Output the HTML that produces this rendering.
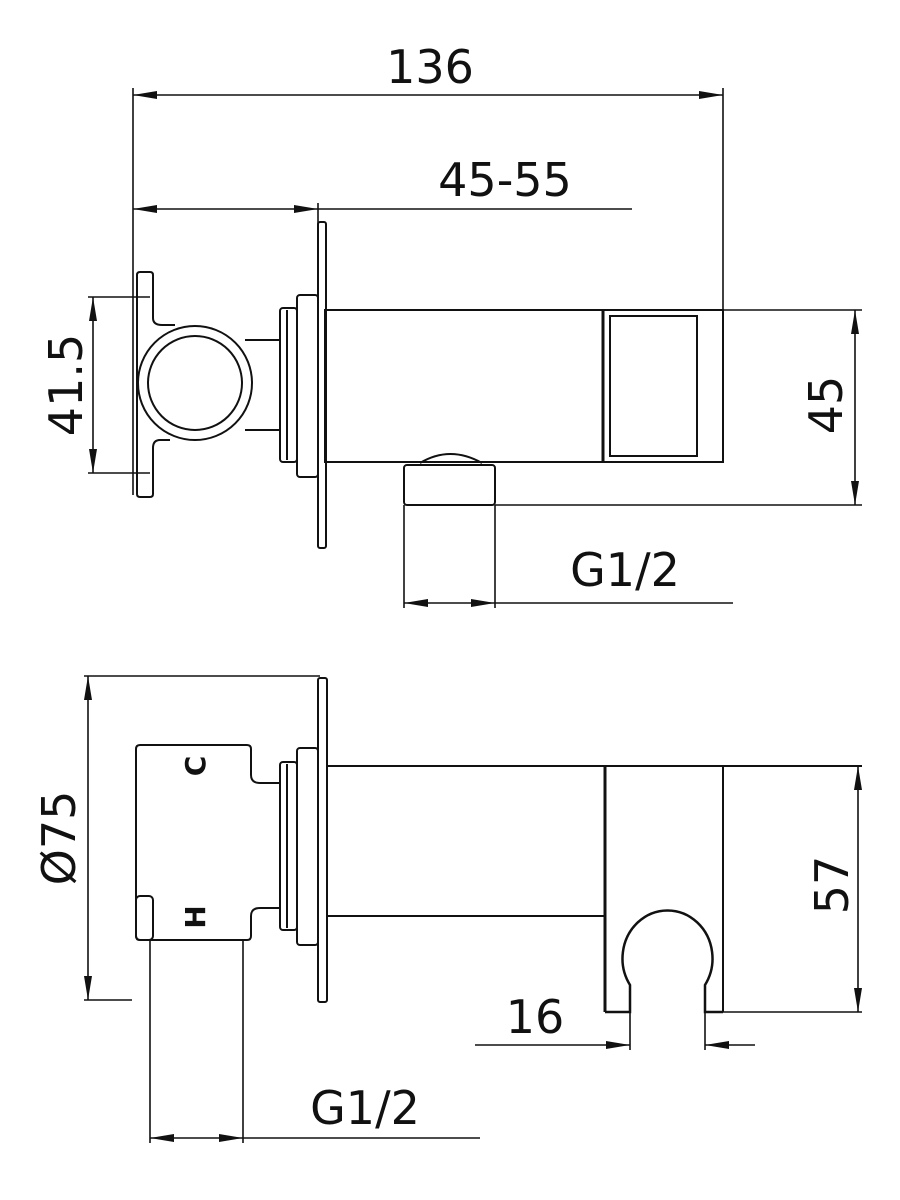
<!DOCTYPE html>
<html><head><style>body{margin:0;background:#fff}svg{display:block}text{font-family:"DejaVu Sans","Liberation Sans",sans-serif;fill:#111}</style></head>
<body>
<svg width="900" height="1200" viewBox="0 0 900 1200" xmlns="http://www.w3.org/2000/svg">
<defs>
<marker id="a" viewBox="0 0 10 10" preserveAspectRatio="none" refX="10" refY="5" markerWidth="24" markerHeight="8" orient="auto-start-reverse" markerUnits="userSpaceOnUse"><path d="M0,0 L10,5 L0,10z" fill="#111"/></marker>
</defs>
<g stroke="#111" stroke-width="2" fill="none">
<!-- TOP VIEW -->
<line x1="133" y1="95" x2="723" y2="95" marker-start="url(#a)" marker-end="url(#a)" stroke-width="1.6"/>
<line x1="133" y1="88" x2="133" y2="495" stroke-width="1.6"/>
<line x1="723" y1="88" x2="723" y2="310" stroke-width="1.6"/>
<line x1="133" y1="209" x2="318" y2="209" marker-start="url(#a)" marker-end="url(#a)" stroke-width="1.6"/>
<line x1="318" y1="209" x2="632" y2="209" stroke-width="1.6"/>
<line x1="318" y1="203" x2="318" y2="230" stroke-width="1.6"/>
<rect x="318" y="222" width="8" height="326" rx="2"/>
<rect x="325" y="310" width="398" height="152"/>
<line x1="603" y1="310" x2="603" y2="462" stroke-width="3"/>
<rect x="610" y="316" width="87" height="140"/>
<rect x="297" y="295" width="21" height="182" rx="3"/>
<rect x="280" y="308" width="17" height="154" rx="3"/>
<line x1="287" y1="310" x2="287" y2="460"/>
<path d="M137,383 L137,275 Q137,272 140,272 L150,272 Q153,272 153,275 L153,318 Q153,325 162,325 L175,325"/>
<path d="M170,440 L160,440 Q153,440 153,448 L153,494 Q153,497 150,497 L140,497 Q137,497 137,494 L137,383"/>
<circle cx="195" cy="383" r="57"/>
<circle cx="195" cy="383" r="47"/>
<line x1="245" y1="340" x2="280" y2="340"/>
<line x1="245" y1="430" x2="280" y2="430"/>
<!-- nipple -->
<path d="M420,463 Q450,445 482,463"/>
<rect x="404" y="465" width="91" height="40" rx="3"/>
<line x1="404" y1="505" x2="404" y2="608" stroke-width="1.6"/>
<line x1="495" y1="505" x2="495" y2="608" stroke-width="1.6"/>
<line x1="404" y1="603" x2="495" y2="603" marker-start="url(#a)" marker-end="url(#a)" stroke-width="1.6"/>
<line x1="495" y1="603" x2="733" y2="603" stroke-width="1.6"/>
<!-- 41.5 -->
<line x1="88" y1="297" x2="150" y2="297" stroke-width="1.6"/>
<line x1="88" y1="473" x2="150" y2="473" stroke-width="1.6"/>
<line x1="93" y1="297" x2="93" y2="473" marker-start="url(#a)" marker-end="url(#a)" stroke-width="1.6"/>
<!-- 45 -->
<line x1="723" y1="310" x2="862" y2="310" stroke-width="1.6"/>
<line x1="495" y1="505" x2="862" y2="505" stroke-width="1.6"/>
<line x1="855" y1="310" x2="855" y2="505" marker-start="url(#a)" marker-end="url(#a)" stroke-width="1.6"/>

<!-- BOTTOM VIEW -->
<line x1="84" y1="676" x2="320" y2="676" stroke-width="1.6"/>
<line x1="84" y1="1000" x2="132" y2="1000" stroke-width="1.6"/>
<line x1="88" y1="676" x2="88" y2="1000" marker-start="url(#a)" marker-end="url(#a)" stroke-width="1.6"/>
<rect x="318" y="678" width="9" height="324" rx="2"/>
<rect x="327" y="766" width="278" height="150"/>
<line x1="605" y1="766" x2="605" y2="1012" stroke-width="3"/>
<line x1="605" y1="766" x2="862" y2="766"/>
<line x1="723" y1="766" x2="723" y2="1012"/>
<path d="M605,1012 L630,1012 L630,985 A45,48 0 1 1 705,985 L705,1012 L723,1012" stroke-width="2.5"/>
<line x1="630" y1="1012" x2="630" y2="1050" stroke-width="1.6"/>
<line x1="705" y1="1012" x2="705" y2="1050" stroke-width="1.6"/>
<line x1="475" y1="1045" x2="630" y2="1045" marker-end="url(#a)" stroke-width="1.6"/>
<line x1="755" y1="1045" x2="705" y2="1045" marker-end="url(#a)" stroke-width="1.6"/>
<line x1="723" y1="1012" x2="862" y2="1012" stroke-width="1.6"/>
<line x1="858" y1="766" x2="858" y2="1012" marker-start="url(#a)" marker-end="url(#a)" stroke-width="1.6"/>
<rect x="297" y="748" width="21" height="197" rx="3"/>
<rect x="280" y="762" width="17" height="168" rx="3"/>
<line x1="287" y1="764" x2="287" y2="928"/>
<path d="M140,745 L247,745 Q251,745 251,749 L251,775 Q251,783 260,783 L280,783"/>
<path d="M280,908 L260,908 Q251,908 251,916 L251,936 Q251,940 247,940 L140,940 Q136,940 136,936 L136,749 Q136,745 140,745"/>
<rect x="136" y="896" width="17" height="44" rx="4"/>
<line x1="150" y1="940" x2="150" y2="1143" stroke-width="1.6"/>
<line x1="243" y1="940" x2="243" y2="1143" stroke-width="1.6"/>
<line x1="150" y1="1138" x2="243" y2="1138" marker-start="url(#a)" marker-end="url(#a)" stroke-width="1.6"/>
<line x1="243" y1="1138" x2="480" y2="1138" stroke-width="1.6"/>
</g>
<g font-size="46">
<text x="430" y="83" text-anchor="middle">136</text>
<text x="505" y="196" text-anchor="middle">45-55</text>
<text x="625" y="586" text-anchor="middle">G1/2</text>
<text x="535" y="1033" text-anchor="middle">16</text>
<text x="365" y="1124" text-anchor="middle">G1/2</text>
<text transform="translate(82,385) rotate(-90)" text-anchor="middle">41.5</text>
<text transform="translate(842,405) rotate(-90)" text-anchor="middle">45</text>
<text transform="translate(75,838) rotate(-90)" text-anchor="middle">Ø75</text>
<text transform="translate(848,885) rotate(-90)" text-anchor="middle">57</text>
</g>
<g font-size="28" font-weight="bold">
<text transform="translate(205,766) rotate(-90)" text-anchor="middle">C</text>
<text transform="translate(205,917) rotate(-90)" text-anchor="middle">H</text>
</g>
</svg>
</body></html>
